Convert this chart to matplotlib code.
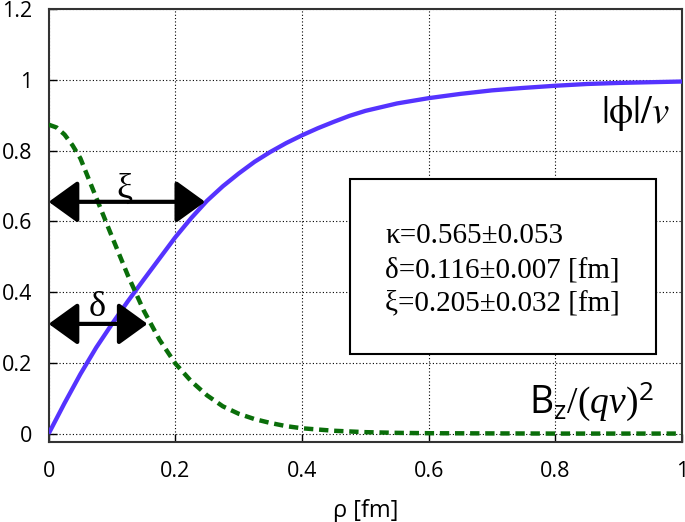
import matplotlib.pyplot as plt
from matplotlib.patches import FancyArrowPatch, Rectangle
import numpy as np

# |phi|/v profile
rho_phi = [0.0, 0.025, 0.05, 0.075, 0.1, 0.125, 0.15, 0.175, 0.2, 0.225, 0.25, 0.275,
           0.3, 0.325, 0.35, 0.375, 0.4, 0.425, 0.45, 0.475, 0.5, 0.55, 0.6, 0.65,
           0.7, 0.75, 0.8, 0.85, 0.9, 0.95, 1.0]
phi = [0.0, 0.086, 0.168, 0.243, 0.31, 0.374, 0.435, 0.495, 0.555, 0.609, 0.658, 0.699,
       0.735, 0.768, 0.796, 0.821, 0.843, 0.863, 0.881, 0.898, 0.912, 0.933, 0.948, 0.96,
       0.97, 0.977, 0.983, 0.988, 0.991, 0.993, 0.995]

# B_z/(qv)^2 profile
rho_b = [0.0, 0.0125, 0.025, 0.0375, 0.05, 0.075, 0.1, 0.125, 0.15, 0.175, 0.2, 0.225,
         0.25, 0.275, 0.3, 0.325, 0.35, 0.375, 0.4, 0.45, 0.5, 0.55, 0.6, 0.7, 0.8, 0.9, 1.0]
bz = [0.873, 0.865, 0.845, 0.815, 0.778, 0.667, 0.556, 0.447, 0.348, 0.265, 0.198, 0.148,
      0.108, 0.077, 0.056, 0.041, 0.03, 0.021, 0.015, 0.008, 0.004, 0.002, 0.001, 0.0005,
      0.0, 0.0, 0.0]

xi_len = 0.247
delta_len = 0.156
fit_lines = ['κ=0.565±0.053', 'δ=0.116±0.007 [fm]', 'ξ=0.205±0.032 [fm]']

plt.rcParams['font.family'] = ['Open Sans', 'DejaVu Sans']
plt.rcParams['mathtext.rm'] = 'Liberation Serif'
plt.rcParams['mathtext.sf'] = 'Open Sans'
plt.rcParams['mathtext.it'] = 'Liberation Serif:italic'
plt.rcParams['mathtext.bf'] = 'Open Sans:bold'

fig = plt.figure(figsize=(6.85, 5.22), dpi=100)
ax = fig.add_axes([0.0711, 0.1538, 0.9245, 0.829])

ax.plot(rho_phi, phi, color='#5533ff', lw=3.1, zorder=4, solid_capstyle='butt')
ax.plot(rho_b, bz, color='#0a6e0a', lw=3.2, ls=(0, (2.1, 1.3)), zorder=4)

ax.set_xlim(0, 1)
ax.set_ylim(-0.023, 1.2)
ax.set_xticks([0, 0.2, 0.4, 0.6, 0.8, 1])
ax.set_xticklabels(['0', '0.2', '0.4', '0.6', '0.8', '1'])
ax.set_yticks([0, 0.2, 0.4, 0.6, 0.8, 1, 1.2])
ax.set_yticklabels(['0', '0.2', '0.4', '0.6', '0.8', '1', '1.2'])
ax.tick_params(direction='in', length=6, width=1, labelsize=15.5)
ax.tick_params(axis='x', pad=14)
ax.tick_params(axis='y', pad=12)
ax.grid(True, color='black', ls=(0, (1, 2)), lw=0.8)
for s in ax.spines.values():
    s.set_linewidth(1.5)
    s.set_color('#333333')
ax.set_xlabel('ρ [fm]', fontsize=17, labelpad=12)

# arrows
for length, yy in [(xi_len, 0.655), (delta_len, 0.31)]:
    arr = FancyArrowPatch((0.0, yy), (length, yy),
                          arrowstyle='<|-|>,head_length=18,head_width=13',
                          mutation_scale=1, color='black', lw=3.0,
                          shrinkA=0, shrinkB=0, zorder=5)
    ax.add_patch(arr)
ax.text(0.12, 0.69, 'ξ', family='Liberation Serif', fontsize=26, ha='center', va='center')
ax.text(0.077, 0.355, 'δ', family='Liberation Serif', fontsize=26, ha='center', va='center')

# box
ax.add_patch(Rectangle((0.476, 0.225), 0.483, 0.494, facecolor='white',
                       edgecolor='black', lw=1.5, zorder=6))
for txt, yy in zip(fit_lines, [0.557, 0.46, 0.367]):
    ax.text(0.531, yy, txt, family='Liberation Serif', fontsize=21,
            ha='left', va='center', zorder=7)

ax.text(0.981, 0.905, r'$|\mathrm{\phi}|/v$', math_fontfamily='stix',
        fontsize=28, ha='right', va='center', zorder=7)
ax.text(0.955, 0.09, r'$\mathsf{B_z}/(qv)^{\mathsf{2}}$', math_fontfamily='custom',
        fontsize=27, ha='right', va='center', zorder=7)

fig.savefig('out.png', dpi=100)
